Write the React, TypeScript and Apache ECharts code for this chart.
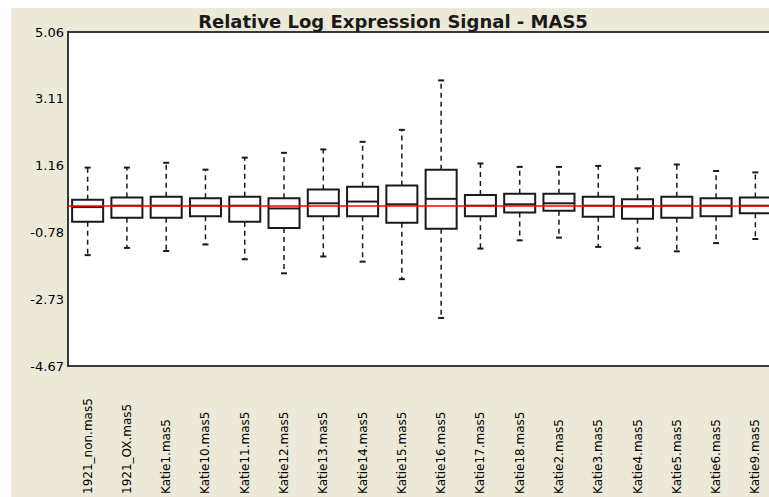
import React, { useEffect, useRef } from "react";
import * as echarts from "echarts";

const categories = [
  "1921_non.mas5", "1921_OX.mas5", "Katie1.mas5", "Katie10.mas5", "Katie11.mas5",
  "Katie12.mas5", "Katie13.mas5", "Katie14.mas5", "Katie15.mas5", "Katie16.mas5",
  "Katie17.mas5", "Katie18.mas5", "Katie2.mas5", "Katie3.mas5", "Katie4.mas5",
  "Katie5.mas5", "Katie6.mas5", "Katie9.mas5",
];
const whiskerHigh = [1.11, 1.11, 1.25, 1.05, 1.40, 1.54, 1.64, 1.86, 2.21, 3.65, 1.23, 1.13, 1.13, 1.16, 1.09, 1.20, 1.01, 0.97];
const upperQuartile = [0.17, 0.24, 0.26, 0.22, 0.26, 0.22, 0.47, 0.55, 0.59, 1.05, 0.31, 0.35, 0.35, 0.26, 0.19, 0.26, 0.22, 0.24];
const median = [-0.04, 0.0, 0.0, 0.0, 0.0, -0.08, 0.07, 0.12, 0.04, 0.20, 0.0, 0.04, 0.07, 0.0, -0.02, 0.0, 0.0, 0.0];
const lowerQuartile = [-0.47, -0.35, -0.35, -0.31, -0.47, -0.65, -0.31, -0.31, -0.50, -0.67, -0.31, -0.20, -0.15, -0.32, -0.38, -0.35, -0.31, -0.22];
const whiskerLow = [-1.44, -1.23, -1.32, -1.13, -1.56, -1.97, -1.48, -1.63, -2.14, -3.27, -1.25, -1.01, -0.93, -1.20, -1.24, -1.33, -1.09, -0.97];
const yTickValues = [-4.67, -2.73, -0.78, 1.16, 3.11, 5.06];
const referenceLevel = 0;

export default function App() {
  const ref = useRef<HTMLDivElement>(null);
  useEffect(() => {
    if (!ref.current) return;
    const chart = echarts.init(ref.current, null, { renderer: "svg" });
    const data = categories.map((_, i) => [
      i, whiskerLow[i], lowerQuartile[i], median[i], upperQuartile[i], whiskerHigh[i],
    ]);
    const ink = "#1a1a1a";
    chart.setOption({
      animation: false,
      backgroundColor: "transparent",
      title: {
        text: "Relative Log Expression Signal - MAS5",
        left: "center",
        top: -1,
        textStyle: { fontFamily: "DejaVu Sans", fontSize: 18, fontWeight: "bold", color: ink },
      },
      grid: {
        left: 57, top: 24, width: 708, height: 338,
        show: true, backgroundColor: "#ffffff", borderColor: "#383838", borderWidth: 2,
      },
      xAxis: {
        type: "category",
        data: categories,
        boundaryGap: true,
        axisLine: { show: false },
        axisTick: { show: false },
        splitLine: { show: false },
        axisLabel: {
          interval: 0, rotate: 90, align: "left", verticalAlign: "middle", margin: 128,
          fontFamily: "DejaVu Sans", fontSize: 12, color: "#000",
        },
      },
      yAxis: {
        type: "value",
        min: yTickValues[0],
        max: yTickValues[yTickValues.length - 1],
        axisLine: { show: false },
        axisTick: { show: false },
        splitLine: { show: false },
        axisLabel: {
          customValues: yTickValues,
          formatter: (v: number) => v.toFixed(2),
          margin: 4,
          fontFamily: "DejaVu Sans", fontSize: 13, color: "#000",
        },
      },
      series: [
        {
          type: "line",
          data: [],
          z: 1,
          markLine: {
            silent: true,
            symbol: "none",
            label: { show: false },
            lineStyle: { color: "#ff0000", width: 1.5, type: "solid" },
            data: [{ yAxis: referenceLevel }],
          },
        },
        {
          type: "custom",
          z: 2,
          data,
          encode: { x: 0, y: [1, 2, 3, 4, 5] },
          renderItem: (params: any, api: any) => {
            const xi = api.value(0);
            const lo = api.coord([xi, api.value(1)]);
            const q1 = api.coord([xi, api.value(2)]);
            const md = api.coord([xi, api.value(3)]);
            const q3 = api.coord([xi, api.value(4)]);
            const hi = api.coord([xi, api.value(5)]);
            const bw = api.size([1, 0])[0] * 0.79;
            const cx = md[0];
            const cap = 3;
            const dash = { stroke: ink, lineWidth: 1.5, lineDash: [5, 4] };
            const solid = { stroke: ink, lineWidth: 2 };
            return {
              type: "group",
              children: [
                { type: "line", shape: { x1: cx, y1: q3[1], x2: cx, y2: hi[1] }, style: dash },
                { type: "line", shape: { x1: cx, y1: q1[1], x2: cx, y2: lo[1] }, style: dash },
                { type: "line", shape: { x1: cx - cap, y1: hi[1], x2: cx + cap, y2: hi[1] }, style: solid },
                { type: "line", shape: { x1: cx - cap, y1: lo[1], x2: cx + cap, y2: lo[1] }, style: solid },
                {
                  type: "rect",
                  shape: { x: cx - bw / 2, y: q3[1], width: bw, height: q1[1] - q3[1] },
                  style: { fill: "none", stroke: ink, lineWidth: 2 },
                },
                { type: "line", shape: { x1: cx - bw / 2, y1: md[1], x2: cx + bw / 2, y2: md[1] }, style: solid },
              ],
            };
          },
        },
      ],
    });
    return () => chart.dispose();
  }, []);
  return (
    <div
      style={{
        position: "fixed", left: 11, top: 8, width: 758, height: 489,
        overflow: "hidden", background: "#ECE9D8",
      }}
    >
      <div ref={ref} style={{ width: 764, height: 489 }} />
    </div>
  );
}
